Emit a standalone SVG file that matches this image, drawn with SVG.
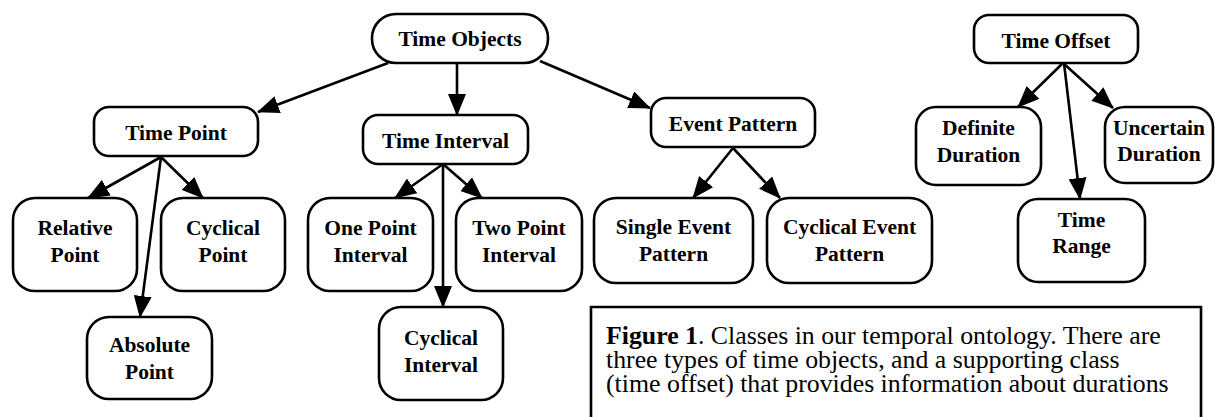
<svg xmlns="http://www.w3.org/2000/svg" width="1215" height="417" viewBox="0 0 1215 417">
<defs>
<style>
.box{fill:#fff;stroke:#000;stroke-width:2.6}
.t{font-family:"Liberation Serif","Times New Roman",serif;font-weight:bold;font-size:21.5px;text-anchor:middle;fill:#000}
.c{font-family:"Liberation Serif","Times New Roman",serif;font-size:25.8px;fill:#000}
.e{stroke:#000;stroke-width:2.6;fill:none;marker-end:url(#ah)}
</style>
<marker id="ah" viewBox="0 0 22 18" refX="21" refY="9" markerWidth="22" markerHeight="18" markerUnits="userSpaceOnUse" orient="auto">
<path d="M0,0 L22,9 L0,18 z" fill="#000"/>
</marker>
</defs>
<rect width="1215" height="417" fill="#fff"/>
<g id="connectors">
<line class="e" x1="388" y1="63" x2="258" y2="112"/>
<line class="e" x1="457" y1="63" x2="457" y2="115"/>
<line class="e" x1="540" y1="61" x2="650" y2="108"/>
<line class="e" x1="161" y1="157" x2="88" y2="198"/>
<line class="e" x1="161" y1="157" x2="203" y2="198"/>
<line class="e" x1="161" y1="157" x2="140" y2="317"/>
<line class="e" x1="443" y1="164" x2="395" y2="198"/>
<line class="e" x1="443" y1="164" x2="482" y2="198"/>
<line class="e" x1="443" y1="164" x2="443" y2="307"/>
<line class="e" x1="733" y1="148" x2="693" y2="198"/>
<line class="e" x1="733" y1="148" x2="780" y2="198"/>
<line class="e" x1="1063" y1="63" x2="1018" y2="107"/>
<line class="e" x1="1063" y1="63" x2="1113" y2="108"/>
<line class="e" x1="1064" y1="63" x2="1080" y2="199"/>
</g>
<g id="time-objects"><rect class="box" x="372" y="14" width="176" height="49" rx="24"/><text class="t" x="460" y="46">Time Objects</text></g>
<g id="time-point"><rect class="box" x="94" y="107" width="164" height="49" rx="15"/><text class="t" x="176" y="140">Time Point</text></g>
<g id="time-interval"><rect class="box" x="363" y="115" width="165" height="49" rx="15"/><text class="t" x="445.5" y="148">Time Interval</text></g>
<g id="event-pattern"><rect class="box" x="651" y="98" width="164" height="49" rx="15"/><text class="t" x="733" y="131">Event Pattern</text></g>
<g id="time-offset"><rect class="box" x="974" y="15" width="164" height="48" rx="15"/><text class="t" x="1056" y="48">Time Offset</text></g>
<g id="definite-duration"><rect class="box" x="916" y="107" width="125" height="78" rx="20"/><text class="t" x="978.5" y="135">Definite</text><text class="t" x="978.5" y="162">Duration</text></g>
<g id="uncertain-duration"><rect class="box" x="1105" y="107" width="108" height="76" rx="20"/><text class="t" x="1159" y="135">Uncertain</text><text class="t" x="1159" y="161">Duration</text></g>
<g id="time-range"><rect class="box" x="1018" y="199" width="127" height="83" rx="20"/><text class="t" x="1081.5" y="227">Time</text><text class="t" x="1081.5" y="253">Range</text></g>
<g id="relative-point"><rect class="box" x="13" y="198" width="124" height="93" rx="22"/><text class="t" x="75" y="235">Relative</text><text class="t" x="75" y="262">Point</text></g>
<g id="cyclical-point"><rect class="box" x="161" y="198" width="124" height="93" rx="22"/><text class="t" x="223" y="235">Cyclical</text><text class="t" x="223" y="262">Point</text></g>
<g id="one-point-interval"><rect class="box" x="308" y="198" width="125" height="93" rx="22"/><text class="t" x="370.5" y="235">One Point</text><text class="t" x="370.5" y="262">Interval</text></g>
<g id="two-point-interval"><rect class="box" x="456" y="198" width="126" height="93" rx="22"/><text class="t" x="519" y="235">Two Point</text><text class="t" x="519" y="262">Interval</text></g>
<g id="single-event-pattern"><rect class="box" x="594" y="198" width="159" height="85" rx="22"/><text class="t" x="673.5" y="234">Single Event</text><text class="t" x="673.5" y="261">Pattern</text></g>
<g id="cyclical-event-pattern"><rect class="box" x="767" y="198" width="165" height="85" rx="22"/><text class="t" x="849.5" y="234">Cyclical Event</text><text class="t" x="849.5" y="261">Pattern</text></g>
<g id="absolute-point"><rect class="box" x="87" y="317" width="125" height="82" rx="22"/><text class="t" x="149.5" y="352">Absolute</text><text class="t" x="149.5" y="379">Point</text></g>
<g id="cyclical-interval"><rect class="box" x="379" y="307" width="124" height="93" rx="22"/><text class="t" x="441" y="345">Cyclical</text><text class="t" x="441" y="372">Interval</text></g>
<g id="caption">
<path d="M591,425 L591,307 L1201,307 L1201,425" fill="none" stroke="#000" stroke-width="2.6"/>
<text class="c" x="606" y="344"><tspan font-weight="bold">Figure 1</tspan>. Classes in our temporal ontology. There are<tspan x="606" dy="24">three types of time objects, and a supporting class</tspan><tspan x="606" dy="24">(time offset) that provides information about durations</tspan></text>
</g>
</svg>
